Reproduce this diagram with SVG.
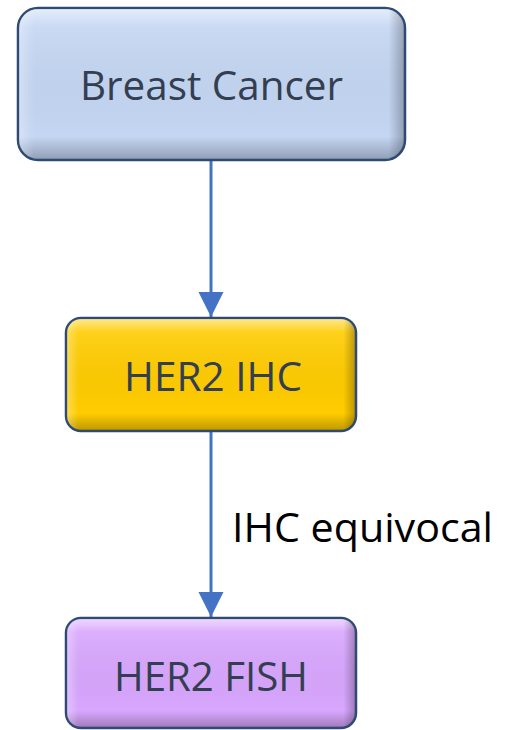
<svg xmlns="http://www.w3.org/2000/svg" width="507" height="730" viewBox="0 0 507 730">
<style>
.box{stroke:#2f4b75;stroke-width:2.5}
.lbl{font-family:"Open Sans","Noto Sans","Liberation Sans",sans-serif;font-size:41px;fill:#333f50;text-anchor:middle}
.edge{font-family:"Open Sans","Noto Sans","Liberation Sans",sans-serif;font-size:41px;fill:#000}
.conn{stroke:#4472c4;stroke-width:3;fill:none}
</style>
<defs>
<linearGradient id="hl" x1="0" y1="0" x2="0" y2="1">
<stop offset="0" stop-color="#fff" stop-opacity="0.55"/>
<stop offset="0.12" stop-color="#fff" stop-opacity="0.1"/>
<stop offset="0.85" stop-color="#000" stop-opacity="0"/>
<stop offset="1" stop-color="#000" stop-opacity="0.25"/>
</linearGradient>
<linearGradient id="hs" x1="0" y1="0" x2="1" y2="0">
<stop offset="0" stop-color="#fff" stop-opacity="0.3"/>
<stop offset="0.04" stop-color="#fff" stop-opacity="0"/>
<stop offset="0.96" stop-color="#000" stop-opacity="0"/>
<stop offset="1" stop-color="#000" stop-opacity="0.25"/>
</linearGradient>
<marker id="arr" viewBox="0 0 10 10" refX="10" refY="5" markerWidth="8.5" markerHeight="8.5" markerUnits="strokeWidth" orient="auto">
<path d="M0,0 L10,5 L0,10 z" fill="#4472c4"/>
</marker>
</defs>
<g id="connectors">
<line class="conn" x1="211" y1="160" x2="211" y2="317" marker-end="url(#arr)"/>
<line class="conn" x1="211" y1="431" x2="211" y2="617" marker-end="url(#arr)"/>
<text class="edge" x="232" y="542" textLength="261" lengthAdjust="spacingAndGlyphs">IHC equivocal</text>
</g>
<g id="breast-cancer">
<rect class="box" x="18" y="8" width="387" height="152" rx="20" fill="#c4d6f3"/>
<rect x="19" y="9" width="385" height="150" rx="19" fill="url(#hl)"/>
<rect x="19" y="9" width="385" height="150" rx="19" fill="url(#hs)"/>
<text class="lbl" x="211.5" y="100" textLength="263" lengthAdjust="spacingAndGlyphs">Breast Cancer</text>
</g>
<g id="her2-ihc">
<rect class="box" x="66" y="318" width="290" height="113" rx="15" fill="#ffcc00"/>
<rect x="67" y="319" width="288" height="111" rx="14" fill="url(#hl)"/>
<rect x="67" y="319" width="288" height="111" rx="14" fill="url(#hs)"/>
<text class="lbl" x="213" y="391" textLength="178" lengthAdjust="spacingAndGlyphs">HER2 IHC</text>
</g>
<g id="her2-fish">
<rect class="box" x="66" y="618" width="290" height="110" rx="15" fill="#d8a6fe"/>
<rect x="67" y="619" width="288" height="108" rx="14" fill="url(#hl)"/>
<rect x="67" y="619" width="288" height="108" rx="14" fill="url(#hs)"/>
<text class="lbl" x="211" y="691" textLength="194" lengthAdjust="spacingAndGlyphs">HER2 FISH</text>
</g>
</svg>
